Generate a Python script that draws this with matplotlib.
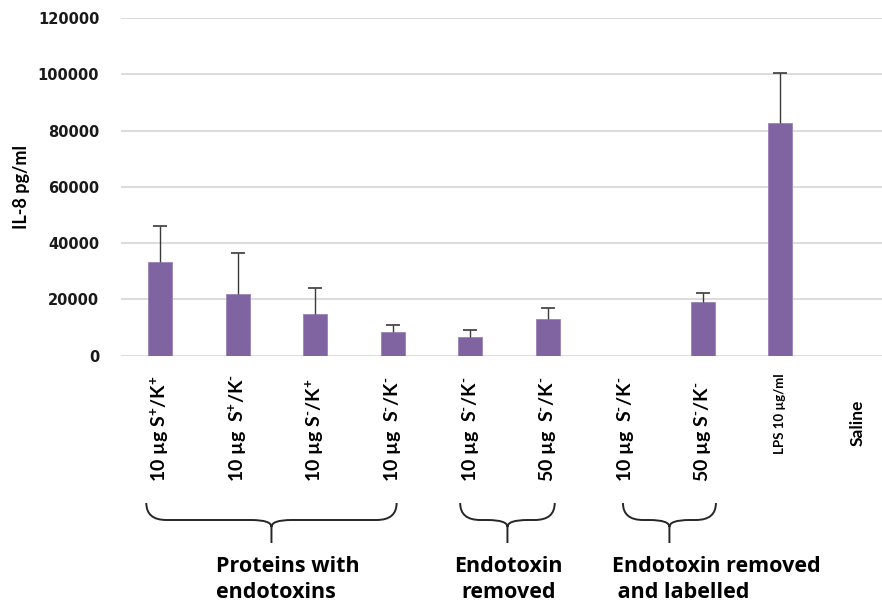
import matplotlib
matplotlib.use('Agg')
import matplotlib.pyplot as plt
from matplotlib.path import Path
from matplotlib.patches import PathPatch
from matplotlib import transforms
import numpy as np

plt.rcParams['mathtext.fontset'] = 'custom'
plt.rcParams['mathtext.rm'] = 'Lato:bold'
plt.rcParams['mathtext.it'] = 'Lato:bold'
plt.rcParams['mathtext.bf'] = 'Lato:bold'

# IL-8 release per treatment (pg/ml), upper error only
labels = ['10 µg S$^{+}$/K$^{+}$', '10 µg  S$^{+}$/K$^{\\text{-}}$', '10 µg S$^{\\text{-}}$/K$^{+}$',
          '10 µg  S$^{\\text{-}}$/K$^{\\text{-}}$', '10 µg  S$^{\\text{-}}$/K$^{\\text{-}}$',
          '50 µg  S$^{\\text{-}}$/K$^{\\text{-}}$', '10 µg  S$^{\\text{-}}$/K$^{\\text{-}}$',
          '50 µg S$^{\\text{-}}$/K$^{\\text{-}}$', 'LPS 10 µg/ml', 'Saline']
il8 = [33400, 21800, 14700, 8500, 6800, 13200, np.nan, 19000, 82600, np.nan]
il8_err = [12800, 14800, 9300, 2300, 2500, 3800, np.nan, 3400, 17900, np.nan]
yticks = [0, 20000, 40000, 60000, 80000, 100000, 120000]

groups = ['Proteins with\nendotoxins', 'Endotoxin\nremoved', 'Endotoxin removed\n and labelled']
group_span = [(0, 3), (4, 5), (6, 7)]

W, H = 882, 603
fig = plt.figure(figsize=(W / 100, H / 100), dpi=100)
ax = fig.add_axes([121.5 / W, 1 - 355.7 / H, 775 / W, (355.7 - 18) / H])

x = np.arange(len(labels))
ax.bar(x, il8, width=0.31, color='#8064a2', edgecolor='#9a82b8', linewidth=0.6, zorder=3)
eb = ax.errorbar(x, il8, yerr=[np.zeros(len(x)), il8_err], fmt='none', ecolor='#3a3a3a',
                 elinewidth=1.0, capsize=5, capthick=1.2, zorder=4)
eb[1][0].set_visible(False)  # no cap on the lower end

ax.set_xlim(-0.5, len(labels) - 0.5)
ax.set_ylim(0, 120000)
ax.set_yticks(yticks)
ax.set_yticklabels([str(v) for v in yticks], fontsize=10.5, fontweight='bold',
                   family='DejaVu Sans', color='#1a1a1a')
ax.tick_params(axis='y', length=0, pad=16)
ax.set_xticks([])
ax.grid(axis='y', color='#d9d9d9', linewidth=1.3, zorder=0)
ax.set_axisbelow(True)
for s in ax.spines.values():
    s.set_visible(False)

fig.text(21 / W, 1 - 187 / H, 'IL-8 pg/ml', rotation=90, ha='center', va='center',
         fontsize=13, fontweight='bold', family='Lato')

# rotated category labels under the bars
tr = transforms.blended_transform_factory(ax.transData, fig.transFigure)
for i, lab in enumerate(labels):
    if lab.startswith('LPS'):
        ax.text(i, 1 - 373 / H, lab, transform=tr, rotation=90, ha='center', va='top',
                fontsize=9.5, fontweight='bold', family='Lato')
    elif lab == 'Saline':
        ax.text(i, 1 - 423 / H, lab, transform=tr, rotation=90, ha='center', va='center',
                fontsize=12.5, fontweight='bold', family='Lato')
    else:
        ax.text(i, 1 - 482 / H, lab, transform=tr, rotation=90, ha='center', va='bottom',
                fontsize=14, fontweight='bold', family='Lato')


def brace(a, b, r=0.26, r2=0.26):
    y0, y1, ym, y2 = [1 - v / H for v in (503, 520, 527, 543)]
    c = (a + b) / 2
    verts = [(a, y0), (a, y1), (a + r, y1), (c - r2, y1), (c, y1), (c, ym), (c, y2),
             (c, ym), (c, y1), (c + r2, y1), (b - r, y1), (b, y1), (b, y0)]
    codes = [Path.MOVETO, Path.CURVE3, Path.CURVE3, Path.LINETO, Path.CURVE3, Path.CURVE3,
             Path.LINETO, Path.MOVETO, Path.CURVE3, Path.CURVE3, Path.LINETO, Path.CURVE3,
             Path.CURVE3]
    ax.add_patch(PathPatch(Path(verts, codes), transform=tr, fill=False,
                           edgecolor='#262626', linewidth=1.4, clip_on=False))


brace(group_span[0][0] - 0.18, group_span[0][1] + 0.05)
brace(group_span[1][0] - 0.13, group_span[1][1] + 0.09)
brace(group_span[2][0] - 0.03, group_span[2][1] + 0.17)

gkw = dict(transform=tr, va='baseline', fontsize=15.5, fontweight='bold',
           family='Open Sans', linespacing=1.3)
ax.text(0.72, 1 - 598 / H, groups[0], ha='left', **gkw)
ax.text(4.49, 1 - 598 / H, groups[1], ha='center', **gkw)
ax.text(5.83, 1 - 598 / H, groups[2], ha='left', **gkw)

fig.savefig('out.png', dpi=100)
